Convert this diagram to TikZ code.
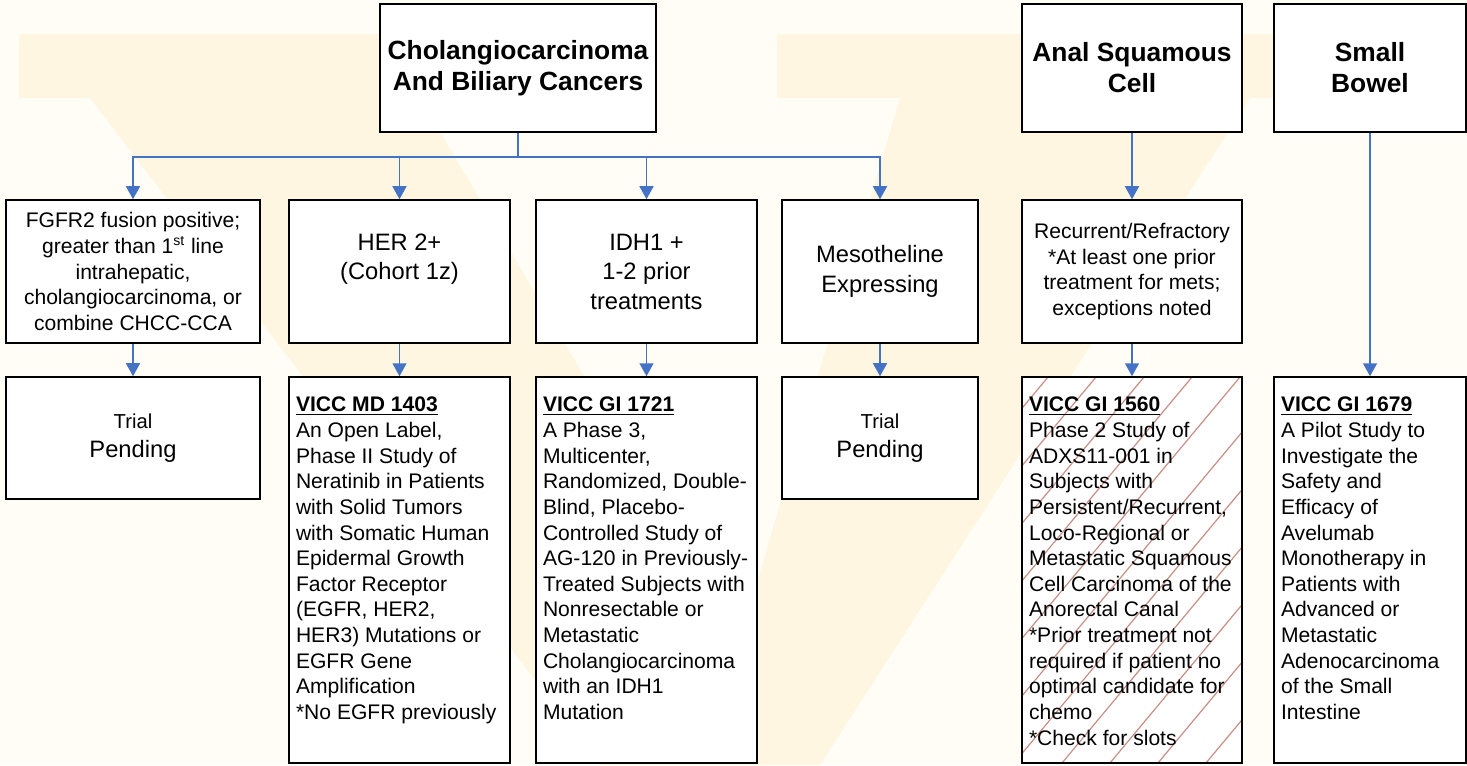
\documentclass[tikz,border=0pt]{standalone}
\usepackage{fontspec}
\setmainfont{Liberation Sans}
\usetikzlibrary{arrows.meta}
\definecolor{linkBlue}  {RGB}{68, 114, 196}
\definecolor{paperCream}{RGB}{255, 253, 246}
\definecolor{markCream} {RGB}{255, 246, 226}
\definecolor{hatchRose} {RGB}{200, 145, 135}
\newcommand{\trialtext}[2]{\parbox[c][6.92cm][t]{#1}{\raggedright #2}}

\begin{document}
\begin{tikzpicture}[x=0.02cm,y=-0.02cm,
    boxline/.style={draw,line width=0.9pt,fill=white},
    headbox/.style={boxline,align=center,minimum height=2.56cm,
      font=\fontsize{15}{17.6}\selectfont\bfseries},
    critbox/.style={boxline,align=center,minimum height=2.86cm,
      font=\fontsize{12}{14.7}\selectfont},
    bigcrit/.style={critbox,font=\fontsize{13.5}{16.8}\selectfont},
    pendbox/.style={boxline,align=center,minimum height=2.44cm,
      font=\fontsize{13.5}{16.5}\selectfont},
    studybox/.style={boxline,inner xsep=0.14cm,inner ysep=0.4cm,
      font=\fontsize{12}{14.6}\selectfont},
    hatched/.style={path picture={
      \foreach \k in {0,...,11}{
        \draw[hatchRose,line width=0.7pt]
          ([xshift=0.52cm+\k*0.96cm]path picture bounding box.north west)
          -- ++(-6.44cm,-7.72cm);
      }}},
    link/.style={draw=linkBlue,line width=0.85pt,
      -{Triangle[width=0.28cm,length=0.26cm]}}]

    \useasboundingbox (0,0) rectangle (1467,765);

    % papier et filigrane
    \fill[paperCream] (0,0) rectangle (1467,765);
    \fill[markCream] (19,34) rectangle (470,98);
    \fill[markCream] (777,34) rectangle (1300,98);
    \fill[markCream] (90,98) -- (420,98) -- (740,640) -- (900,98)
      -- (1250,98) -- (820,765) -- (600,765) -- cycle;

    % cancers
    \node[headbox,minimum width=5.52cm] (chol) at (518,68)
      {Cholangiocarcinoma\\And Biliary Cancers};
    \node[headbox,minimum width=4.40cm] (anal) at (1132,68)
      {Anal Squamous\\Cell};
    \node[headbox,minimum width=3.84cm] (bowel) at (1370,68)
      {Small\\Bowel};

    % criteres
    \node[critbox,minimum width=5.08cm] (fgfr) at (133,271.5)
      {FGFR2 fusion positive;\\greater than 1\textsuperscript{st} line\\
       intrahepatic,\\cholangiocarcinoma, or\\combine CHCC-CCA};
    \node[bigcrit,minimum width=4.42cm] (her2) at (399.5,271.5)
      {HER 2+\\(Cohort 1z)\\\mbox{}};
    \node[bigcrit,minimum width=4.42cm] (idh1) at (646.5,271.5)
      {IDH1 +\\1-2 prior\\treatments};
    \node[bigcrit,minimum width=3.92cm] (meso) at (880,271.5)
      {Mesotheline\\Expressing};
    \node[critbox,minimum width=4.40cm] (recur) at (1132,271.5)
      {Recurrent/Refractory\\{}*At least one prior\\
       treatment for mets;\\exceptions noted};

    % essais
    \node[pendbox,minimum width=5.08cm] (pend1) at (133,438)
      {{\fontsize{11.5}{14}\selectfont Trial}\\Pending};
    \node[pendbox,minimum width=3.92cm] (pend2) at (880,438)
      {{\fontsize{11.5}{14}\selectfont Trial}\\Pending};
    \node[studybox] (md1403) at (399.5,570) {\trialtext{4.14cm}{%
      \underline{\textbf{VICC MD 1403}}\\
      An Open Label,\\Phase II Study of\\Neratinib in Patients\\
      with Solid Tumors\\with Somatic Human\\Epidermal Growth\\
      Factor Receptor\\(EGFR, HER2,\\HER3) Mutations or\\
      EGFR Gene\\Amplification\\{}*No EGFR previously}};
    \node[studybox] (gi1721) at (646.5,570) {\trialtext{4.14cm}{%
      \underline{\textbf{VICC GI 1721}}\\
      A Phase 3,\\Multicenter,\\Randomized, Double-\\Blind, Placebo-\\
      Controlled Study of\\AG-120 in Previously-\\Treated Subjects with\\
      Nonresectable or\\Metastatic\\Cholangiocarcinoma\\
      with an IDH1\\Mutation}};
    \node[studybox,hatched] (gi1560) at (1132,570) {\trialtext{4.12cm}{%
      \underline{\textbf{VICC GI 1560}}\\
      Phase 2 Study of\\ADXS11-001 in\\Subjects with\\
      Persistent/Recurrent,\\Loco-Regional or\\Metastatic Squamous\\
      Cell Carcinoma of the\\Anorectal Canal\\{}*Prior treatment not\\
      required if patient no\\optimal candidate for\\chemo\\
      {}*Check for slots}};
    \node[studybox] (gi1679) at (1370,570) {\trialtext{3.56cm}{%
      \underline{\textbf{VICC GI 1679}}\\
      A Pilot Study to\\Investigate the\\Safety and\\Efficacy of\\
      Avelumab\\Monotherapy in\\Patients with\\Advanced or\\
      Metastatic\\Adenocarcinoma\\of the Small\\Intestine}};

    % fleches
    \path (chol.south) ++(0,24) coordinate (bus);
    \draw[linkBlue,line width=0.85pt] (chol.south) -- (bus);
    \foreach \n in {fgfr,her2,idh1,meso}{
      \draw[link] (bus) -| (\n.north);
    }
    \foreach \a/\b in {fgfr/pend1,her2/md1403,idh1/gi1721,meso/pend2,
                       anal/recur,recur/gi1560,bowel/gi1679}{
      \draw[link] (\a.south) -- (\b.north);
    }

\end{tikzpicture}
\end{document}
